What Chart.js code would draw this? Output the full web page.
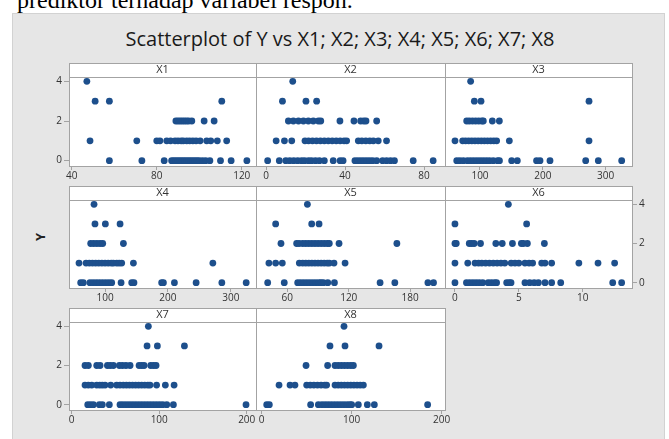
<!DOCTYPE html>
<html>
<head>
<meta charset="utf-8">
<script src="https://cdn.jsdelivr.net/npm/chart.js@4.4.1/dist/chart.umd.min.js"></script>
<style>
  body { margin: 0; background: #fff; width: 669px; height: 439px; overflow: hidden; position: relative; }
  #toptext { position: absolute; left: 17px; top: -10px; font-family: "Liberation Serif", serif; font-size: 24px; line-height: 20px; color: #000; white-space: nowrap; }
  #panel { position: absolute; left: 12px; top: 13px; width: 651px; height: 430px; background: #e6e6e6; border: 1px solid #d2d2d2; }
  #title { position: absolute; left: 0; width: 680px; top: 27px; text-align: center; font-family: "Open Sans", sans-serif; font-size: 20px; line-height: 24px; color: #1a1a1a; }
  #ylab { position: absolute; left: 32px; top: 229px; width: 16px; height: 16px; transform: rotate(-90deg); font-family: "Open Sans", sans-serif; font-weight: bold; font-size: 13px; color: #222; text-align: center; line-height: 16px; }
  canvas { position: absolute; }
</style>
</head>
<body>
<div id="toptext">prediktor terhadap variabel respon.</div>
<div id="panel"></div>
<div id="title">Scatterplot of Y vs X1; X2; X3; X4; X5; X6; X7; X8</div>
<div id="ylab">Y</div>

<script>
// y levels and y tick labels
var yLevels = [0, 1, 2, 3, 4];
var yTicks = [0, 2, 4];

// x values, one array per Y level
var X1_Y0 = [57.7, 73, 83.5, 87, 88, 89, 90, 91, 92, 93, 94, 95, 96, 97, 98, 99, 100, 101.5, 103, 105, 110, 115, 122.4];
var X1_Y1 = [48.6, 70.6, 80, 81.5, 84.7, 86.5, 88.6, 90, 91.5, 92.5, 94.1, 95.5, 97, 98.5, 100.4, 103.5, 105.4, 108.5, 112.9];
var X1_Y2 = [89, 90, 91, 92, 93, 94, 95, 96.5, 102.3, 107];
var X1_Y3 = [51, 57.7, 110.6];
var X1_Y4 = [47.1];

var X2_Y0 = [0.8, 6.7, 10, 12, 14, 16, 18, 19.5, 21.5, 23, 25, 27, 29.5, 34, 37.5, 39, 45, 46.5, 48, 49.5, 51, 52.5, 54, 56, 59, 61, 63, 65, 74.5, 84.6];
var X2_Y1 = [5.1, 9.3, 13, 19.7, 21.5, 23.5, 25.5, 27.5, 29.5, 31.5, 33.5, 35.5, 37.5, 39.5, 40.8, 46.7, 48.5, 50.5, 52.5, 54.3, 56.8, 61];
var X2_Y2 = [11.3, 13.8, 16.4, 18.9, 21.4, 23.9, 26.5, 27.7, 37.4, 44.5, 47.9, 49.5, 50.6, 56];
var X2_Y3 = [8.3, 20.2, 25.6];
var X2_Y4 = [13.5];

var X3_Y0 = [63, 68, 73.5, 80, 85, 90, 95, 100, 105, 110, 115, 121, 128, 131, 150.4, 159.4, 190, 195.5, 211.4, 268.2, 288.3, 325.5];
var X3_Y1 = [60.2, 72.4, 77, 82, 87, 92, 97, 102, 107, 112, 117, 122, 126.5, 146.7, 273.5];
var X3_Y2 = [78.8, 83, 88, 93, 98, 103, 105.3, 119.6, 130.8];
var X3_Y3 = [91, 101.6, 273.5];
var X3_Y4 = [85.1];

var X4_Y0 = [61.3, 65.5, 76, 81, 86, 91, 96, 101, 106, 110.6, 125.5, 142.4, 146, 190, 192.8, 210.3, 244.8, 285.7, 324.4];
var X4_Y1 = [58.6, 69.8, 75, 80, 85, 90, 95, 100, 105, 110, 113.3, 118.6, 122.5, 126.5, 145.1, 271.4];
var X4_Y2 = [77.2, 82, 87, 92, 96.3, 129.2];
var X4_Y3 = [84, 100.5, 123.9];
var X4_Y4 = [82.5];

var X5_Y0 = [40.8, 57, 70.1, 73, 76, 79, 82, 85, 88, 91, 93, 95.2, 99.5, 106, 150.6, 165, 197.3, 202.8];
var X5_Y1 = [42, 48.6, 55.1, 71.7, 75, 78, 81, 84, 87, 90, 93, 96, 99, 101, 105.6, 116.4];
var X5_Y2 = [53.8, 69.1, 71.5, 75, 78, 81, 84, 87, 90, 93, 96, 99, 101, 110.5, 167];
var X5_Y3 = [48.6, 83.8, 91];
var X5_Y4 = [79.6];

var X6_Y0 = [0, 0.9, 1.15, 1.4, 1.65, 1.9, 2.17, 2.6, 2.85, 3.1, 3.26, 4.05, 4.25, 4.39, 5.48, 5.85, 6.2, 6.53, 7.05, 7.57, 8.28, 12.35, 13.05];
var X6_Y1 = [0, 1.0, 1.57, 1.85, 2.1, 2.4, 2.7, 3.0, 3.3, 3.6, 3.9, 4.4, 4.7, 5.0, 5.48, 5.8, 6.08, 6.79, 7.05, 7.57, 9.7, 11.2, 12.5];
var X6_Y2 = [0, 0.1, 1.12, 1.3, 1.5, 2.0, 3.2, 3.7, 4.5, 5.2, 5.35, 5.67, 7.0];
var X6_Y3 = [0, 5.61];
var X6_Y4 = [4.18];

var X7_Y0 = [18.3, 21.5, 24.8, 31.6, 35, 43, 55.2, 58.5, 62, 65.5, 69, 72.5, 76, 79.5, 83, 86.5, 90, 93.5, 97, 100.5, 104, 108.6, 116.2, 199.2];
var X7_Y1 = [15.2, 19, 22.9, 28.6, 32, 35, 38.1, 44.6, 51.4, 55.2, 59, 62.5, 66, 69.5, 73, 76.5, 80, 83.5, 87, 89.5, 97, 107, 117];
var X7_Y2 = [15.2, 19, 28.6, 32.4, 40.8, 44, 47.6, 54.5, 58, 62, 66.7, 77, 80, 82.7, 90.3, 93.5, 96.4];
var X7_Y3 = [86.1, 97.9, 128.8];
var X7_Y4 = [87.6];

var X8_Y0 = [5.6, 8.5, 54.4, 63, 67, 70.5, 74, 77.5, 81, 84.5, 88, 91.5, 95, 98, 100, 107.4, 117.4, 125.2, 184.4];
var X8_Y1 = [19.3, 31.5, 37, 50, 54, 58, 62, 66, 70, 72.2, 81.5, 85, 88.5, 92, 95.5, 99, 102.5, 106, 109.5, 113];
var X8_Y2 = [49.3, 73.3, 81.5, 85, 88.5, 92, 95.5, 99, 101.9];
var X8_Y3 = [75.9, 92.6, 130.4];
var X8_Y4 = [91.5];

// x tick labels per panel
var X1_ticks = [40, 80, 120];
var X2_ticks = [0, 40, 80];
var X3_ticks = [100, 200, 300];
var X4_ticks = [100, 200, 300];
var X5_ticks = [60, 120, 180];
var X6_ticks = [0, 5, 10];
var X7_ticks = [0, 100, 200];
var X8_ticks = [0, 100, 200];

var panels = [
  { name: 'X1', levels: [X1_Y0, X1_Y1, X1_Y2, X1_Y3, X1_Y4], ticks: X1_ticks, min: 38.7, max: 126.7, col: 0, row: 0, yPos: 'left' },
  { name: 'X2', levels: [X2_Y0, X2_Y1, X2_Y2, X2_Y3, X2_Y4], ticks: X2_ticks, min: -5.1, max: 90.6, col: 1, row: 0, yPos: null },
  { name: 'X3', levels: [X3_Y0, X3_Y1, X3_Y2, X3_Y3, X3_Y4], ticks: X3_ticks, min: 44.3, max: 341.9, col: 2, row: 0, yPos: null },
  { name: 'X4', levels: [X4_Y0, X4_Y1, X4_Y2, X4_Y3, X4_Y4], ticks: X4_ticks, min: 42.7, max: 340, col: 0, row: 1, yPos: null },
  { name: 'X5', levels: [X5_Y0, X5_Y1, X5_Y2, X5_Y3, X5_Y4], ticks: X5_ticks, min: 29.4, max: 214, col: 1, row: 1, yPos: null },
  { name: 'X6', levels: [X6_Y0, X6_Y1, X6_Y2, X6_Y3, X6_Y4], ticks: X6_ticks, min: -0.78, max: 13.86, col: 2, row: 1, yPos: 'right' },
  { name: 'X7', levels: [X7_Y0, X7_Y1, X7_Y2, X7_Y3, X7_Y4], ticks: X7_ticks, min: -3.1, max: 210.6, col: 0, row: 2, yPos: 'left' },
  { name: 'X8', levels: [X8_Y0, X8_Y1, X8_Y2, X8_Y3, X8_Y4], ticks: X8_ticks, min: -6.3, max: 203.7, col: 1, row: 2, yPos: null }
];

// plot area edges
var colEdges = [69, 256, 445, 632];
var rowTops = [77, 200, 322];
var rowBottoms = [166, 288, 410];

var pointColor = '#1d4f8c';
var frameColor = '#a3a3a3';
var tickFont = { family: 'Open Sans', size: 10 };

var framePlugin = {
  id: 'frame',
  beforeDraw: function(chart) {
    var a = chart.chartArea, ctx = chart.ctx;
    ctx.save();
    ctx.fillStyle = '#fff';
    ctx.fillRect(a.left, a.top - 14, a.right - a.left, a.bottom - a.top + 14);
    ctx.restore();
  },
  afterDraw: function(chart) {
    var a = chart.chartArea, ctx = chart.ctx;
    ctx.save();
    ctx.strokeStyle = frameColor;
    ctx.lineWidth = 1;
    ctx.strokeRect(Math.round(a.left) + 0.5, Math.round(a.top - 14) + 0.5, Math.round(a.right - a.left), 14);
    ctx.strokeRect(Math.round(a.left) + 0.5, Math.round(a.top) + 0.5, Math.round(a.right - a.left), Math.round(a.bottom - a.top));
    ctx.fillStyle = '#333';
    ctx.font = '11px "Open Sans"';
    ctx.textAlign = 'center';
    ctx.textBaseline = 'middle';
    ctx.fillText(chart.options.plugins.frame.label, (a.left + a.right) / 2, a.top - 7);
    ctx.restore();
  }
};

panels.forEach(function(p) {
  var L = colEdges[p.col], R = colEdges[p.col + 1];
  var T = rowTops[p.row], B = rowBottoms[p.row];
  var side = 34, topPad = 16, xH = 22, yW = 30;

  var cv = document.createElement('canvas');
  cv.width = (R - L) + side * 2;
  cv.height = (B - T) + topPad + xH + 2;
  cv.style.left = (L - side) + 'px';
  cv.style.top = (T - topPad) + 'px';
  document.body.appendChild(cv);

  var datasets = p.levels.map(function(xs, k) {
    return {
      data: xs.map(function(x) { return { x: x, y: yLevels[k] }; }),
      backgroundColor: pointColor,
      borderWidth: 0,
      pointRadius: 3.4,
      clip: false
    };
  });

  new Chart(cv, {
    type: 'scatter',
    data: { datasets: datasets },
    options: {
      responsive: false,
      animation: false,
      events: [],
      layout: {
        padding: {
          top: topPad,
          bottom: 2,
          left: p.yPos === 'left' ? side - yW : side,
          right: p.yPos === 'right' ? side - yW : side
        }
      },
      plugins: {
        legend: { display: false },
        tooltip: { enabled: false },
        frame: { label: p.name }
      },
      scales: {
        x: {
          type: 'linear',
          min: p.min,
          max: p.max,
          afterFit: function(s) { s.height = xH; },
          afterBuildTicks: function(s) { s.ticks = p.ticks.map(function(v) { return { value: v }; }); },
          grid: { drawOnChartArea: false, tickLength: 4, color: frameColor },
          border: { display: false },
          ticks: { color: '#333', font: tickFont, padding: 0, maxRotation: 0, autoSkip: false }
        },
        y: {
          type: 'linear',
          display: p.yPos !== null,
          position: p.yPos === 'right' ? 'right' : 'left',
          min: -0.27,
          max: 4.22,
          afterFit: function(s) { s.width = p.yPos ? yW : 0; },
          afterBuildTicks: function(s) { s.ticks = yTicks.map(function(v) { return { value: v }; }); },
          grid: { drawOnChartArea: false, tickLength: 5, color: frameColor },
          border: { display: false },
          ticks: { color: '#333', font: tickFont, padding: 2 }
        }
      }
    },
    plugins: [framePlugin]
  });
});
</script>
</body>
</html>
